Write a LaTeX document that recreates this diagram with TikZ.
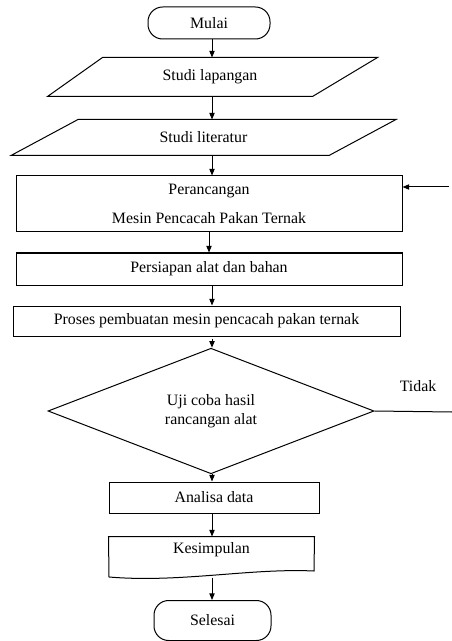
\documentclass[tikz,border=0pt]{standalone}
\usepackage{fontspec}
\setmainfont{Liberation Serif}
\usetikzlibrary{shapes.geometric,arrows.meta}

\begin{document}
\begin{tikzpicture}[x=0.75pt,y=-0.75pt,
  font=\fontsize{11.9}{14.3}\selectfont,
  line width=0.75pt,
  terminal/.style={draw,rectangle,rounded corners=11pt,inner sep=0pt},
  process/.style={draw,rectangle,inner sep=0pt},
  inbox/.style={rectangle,inner sep=0pt},
  decision/.style={draw,diamond,inner sep=0pt,align=center},
  arr/.style={-{Triangle[length=5pt,width=4pt]}}]
\useasboundingbox (0,0) rectangle (452,641);
\coordinate (spine) at (212,0);
% start
\node (mulai) [terminal,minimum width=122*0.75pt,minimum height=32*0.75pt] at (209,23) {Mulai};
% input boxes
\node (lapangan) [inbox,minimum width=269*0.75pt,minimum height=38*0.75pt] at (210,77) {Studi lapangan};
\draw ([xshift=-27.5*0.75pt]lapangan.south west) -- ([xshift=-32.5*0.75pt]lapangan.south east)
  -- ([xshift=32.5*0.75pt]lapangan.north east) -- ([xshift=27.5*0.75pt]lapangan.north west) -- cycle;
\node (literatur) [inbox,minimum width=317*0.75pt,minimum height=35*0.75pt] at (203.5,137.5) {Studi literatur};
\draw ([xshift=-33.5*0.75pt]literatur.south west) -- ([xshift=-33.5*0.75pt]literatur.south east)
  -- ([xshift=33.5*0.75pt]literatur.north east) -- ([xshift=33.5*0.75pt]literatur.north west) -- cycle;
\node (rancang) [process,align=center,minimum width=386*0.75pt,minimum height=56*0.75pt] at (209,204)
  {Perancangan\\[7pt]Mesin Pencacah Pakan Ternak};
\node (persiapan) [process,minimum width=386*0.75pt,minimum height=32*0.75pt] at (209,269) {Persiapan alat dan bahan};
\node (proses) [process,minimum width=387*0.75pt,minimum height=30*0.75pt] at (206.5,321) {Proses pembuatan mesin pencacah pakan ternak};
\node (uji) [decision,minimum width=326*0.75pt,minimum height=98*0.75pt] at (211,411)
  {Uji coba hasil\\rancangan alat};
\node (tidak) at (418,386) {Tidak};
\node (analisa) [process,minimum width=210*0.75pt,minimum height=31*0.75pt] at (214,497.5) {Analisa data};
% document shape
\node (kes) [inbox,minimum width=205*0.75pt,minimum height=40*0.75pt] at (211.5,557) {};
\node (keslabel) at (211.5,550) {Kesimpulan};
\draw (kes.north west) -- (kes.north east) -- (314,571)
  .. controls (250,568) and (180,583) .. (109,577) -- cycle;
\node (selesai) [terminal,minimum width=117*0.75pt,minimum height=40*0.75pt] at (212.5,620.5) {Selesai};
% loop back
\coordinate (backin) at (449,187);
\coordinate (backout) at (452,412);
% arrows
\draw[arr] (spine |- mulai.south) -- (spine |- lapangan.north);
\draw[arr] (spine |- lapangan.south) -- (spine |- literatur.north);
\draw[arr] (spine |- literatur.south) -- (spine |- rancang.north);
\draw[arr] (rancang.south) -- (rancang.south |- persiapan.north);
\draw[arr] (spine |- persiapan.south) -- (spine |- proses.north);
\draw[arr] ([yshift=-1.5pt]spine |- proses.south) -- (spine |- uji.north);
\draw[arr] (spine |- uji.south) -- (spine |- analisa.north);
\draw[arr] (spine |- analisa.south) -- (spine |- kes.north);
\draw[arr] (spine |- kes.south) -- (spine |- selesai.north);
\draw (uji.east) -- (backout);
\draw[arr] (backin) -- (backin -| rancang.east);
\end{tikzpicture}
\end{document}
